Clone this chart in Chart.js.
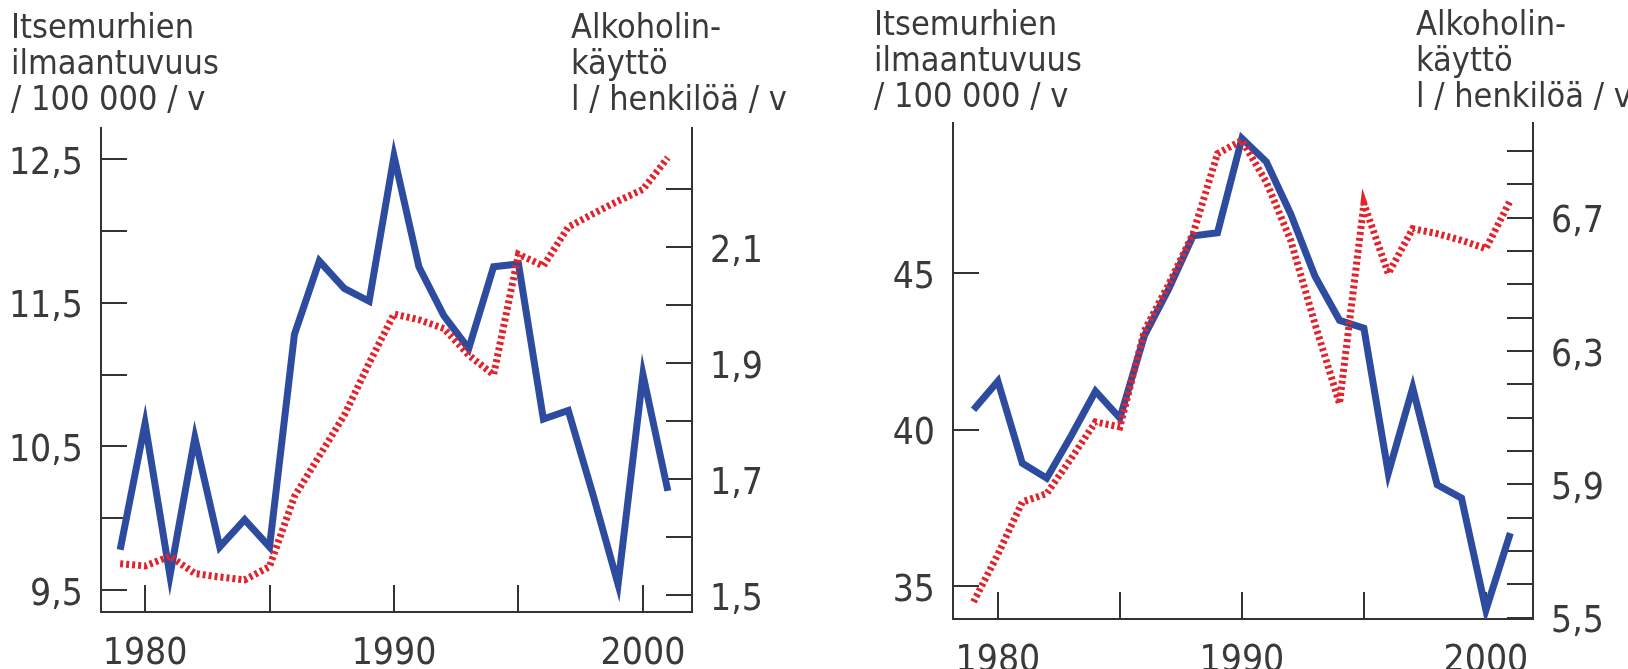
<!DOCTYPE html>
<html>
<head>
<meta charset="utf-8">
<script src="https://cdn.jsdelivr.net/npm/chart.js@4.4.0/dist/chart.umd.min.js"></script>
<style>
  body { margin: 0; background: #fff; }
  .panel { position: absolute; top: 0; width: 814px; height: 669px; }
  .title {
    position: absolute;
    font-family: "Liberation Sans Narrow", "DejaVu Sans Condensed", "Open Sans", sans-serif;
    font-size: 34px;
    line-height: 36px;
    color: #3a3a3a;
    white-space: nowrap;
  }
</style>
</head>
<body>
<div class="panel" style="left:0">
  <canvas id="leftChart" width="814" height="669"></canvas>
  <div class="title" style="left:11px; top:8px">Itsemurhien<br>ilmaantuvuus<br>/ 100 000 / v</div>
  <div class="title" style="left:571px; top:8px">Alkoholin-<br>käyttö<br>l / henkilöä / v</div>
</div>
<div class="panel" style="left:814px">
  <canvas id="rightChart" width="814" height="669"></canvas>
  <div class="title" style="left:60px; top:5px">Itsemurhien<br>ilmaantuvuus<br>/ 100 000 / v</div>
  <div class="title" style="left:602px; top:5px">Alkoholin-<br>käyttö<br>l / henkilöä / v</div>
</div>

<script>
// ── Data ──
const YEARS = [1979, 1980, 1981, 1982, 1983, 1984, 1985, 1986, 1987, 1988, 1989, 1990,
               1991, 1992, 1993, 1994, 1995, 1996, 1997, 1998, 1999, 2000, 2001];

// left panel
const LEFT_SUICIDE = [9.78, 10.66, 9.60, 10.56, 9.80, 9.99, 9.80, 11.28, 11.79, 11.60, 11.51, 12.52,
                      11.75, 11.41, 11.18, 11.75, 11.77, 10.69, 10.75, 10.16, 9.54, 11.00, 10.19];
const LEFT_ALCOHOL = [1.554, 1.550, 1.567, 1.537, 1.531, 1.526, 1.549, 1.670, 1.740, 1.810, 1.900, 1.985,
                      1.975, 1.960, 1.914, 1.880, 2.088, 2.068, 2.135, 2.158, 2.180, 2.200, 2.255];

// right panel
const RIGHT_SUICIDE = [40.64, 41.55, 38.93, 38.45, 39.80, 41.23, 40.37, 43.00, 44.50, 46.20, 46.30, 49.32,
                       48.57, 46.90, 44.90, 43.50, 43.25, 38.61, 41.34, 38.24, 37.81, 34.23, 36.69];
const RIGHT_ALCOHOL = [5.547, 5.690, 5.847, 5.872, 5.977, 6.087, 6.072, 6.360, 6.500, 6.652, 6.892, 6.932,
                       6.807, 6.632, 6.380, 6.142, 6.742, 6.532, 6.667, 6.652, 6.632, 6.607, 6.752];

// ticks
const X_TICKS = [1980, 1985, 1990, 1995, 2000];
const X_LABELS = [1980, 1990, 2000];
const LEFT_Y_TICKS = [9.5, 10, 10.5, 11, 11.5, 12, 12.5];
const LEFT_Y_LABELS = [9.5, 10.5, 11.5, 12.5];
const LEFT_Y2_TICKS = [1.5, 1.6, 1.7, 1.8, 1.9, 2.0, 2.1, 2.2];
const LEFT_Y2_LABELS = [1.5, 1.7, 1.9, 2.1];
const RIGHT_Y_TICKS = [35, 40, 45];
const RIGHT_Y_LABELS = [35, 40, 45];
const RIGHT_Y2_TICKS = [5.5, 5.6, 5.7, 5.8, 5.9, 6.0, 6.1, 6.2, 6.3, 6.4, 6.5, 6.6, 6.7, 6.8, 6.9];
const RIGHT_Y2_LABELS = [5.5, 5.9, 6.3, 6.7];

// ── Styles ──
const BLUE = '#2e4c9f';
const RED = '#e1242c';
const AXIS = '#333333';
const TEXT = '#3a3a3a';
const FONT = '"Liberation Sans Narrow", "DejaVu Sans Condensed", "Open Sans", sans-serif';

// short tick marks drawn inwards from each axis line
const innerTicks = {
  id: 'innerTicks',
  beforeDatasetsDraw(chart, args, opts) {
    const { ctx, chartArea: a } = chart;
    ctx.save();
    ctx.strokeStyle = AXIS;
    ctx.lineWidth = 2;
    Object.entries(opts.lengths).forEach(([id, len]) => {
      const s = chart.scales[id];
      s.ticks.forEach(t => {
        const p = Math.round(s.getPixelForValue(t.value));
        ctx.beginPath();
        if (id === 'x') {
          ctx.moveTo(p, a.bottom);
          ctx.lineTo(p, a.bottom - len);
        } else if (s.position === 'left') {
          ctx.moveTo(a.left, p);
          ctx.lineTo(a.left + len, p);
        } else {
          ctx.moveTo(a.right, p);
          ctx.lineTo(a.right - len, p);
        }
        ctx.stroke();
      });
    });
    ctx.restore();
  },
};

const fmt = v => String(v).replace('.', ',');

function axis(position, min, max, tickVals, labelVals, size, padding, labelFmt) {
  const horizontal = position === 'bottom';
  return {
    type: 'linear',
    position,
    min,
    max,
    grid: { display: false, drawTicks: false },
    border: { display: true, color: AXIS, width: 2 },
    afterBuildTicks: s => { s.ticks = tickVals.map(v => ({ value: v })); },
    afterFit: s => {
      if (horizontal) s.height = size;
      else s.width = size;
    },
    ticks: {
      autoSkip: false,
      maxRotation: 0,
      padding,
      labelOffset: horizontal ? 0 : 5,
      color: TEXT,
      font: { family: FONT, size: 37 },
      callback: v => (labelVals.includes(v) ? labelFmt(v) : ''),
    },
  };
}

/**
 * One panel: suicide rate (solid blue, left axis) and alcohol use (dotted red, right axis)
 */
function renderPanel(canvasId, p) {
  const ctx = document.getElementById(canvasId);
  if (!ctx) return;

  new Chart(ctx, {
    type: 'line',
    data: {
      datasets: [
        {
          label: 'Alkoholinkäyttö',
          data: YEARS.map((yr, i) => ({ x: yr, y: p.alcohol[i] })),
          yAxisID: 'y2',
          borderColor: RED,
          borderWidth: 7,
          borderDash: [3, 3],
          borderCapStyle: 'butt',
          pointRadius: 0,
          tension: 0,
        },
        {
          label: 'Itsemurhien ilmaantuvuus',
          data: YEARS.map((yr, i) => ({ x: yr, y: p.suicide[i] })),
          yAxisID: 'y',
          borderColor: BLUE,
          borderWidth: 7,
          borderJoinStyle: 'miter',
          pointRadius: 0,
          tension: 0,
        },
      ],
    },
    options: {
      responsive: false,
      animation: false,
      events: [],
      layout: { padding: { top: p.top, left: 0, right: 0, bottom: 0 } },
      plugins: {
        legend: { display: false },
        tooltip: { enabled: false },
        innerTicks: { lengths: { x: 27, y: 26, y2: 26 } },
      },
      scales: {
        x: axis('bottom', p.xMin, p.xMax, X_TICKS, X_LABELS, p.xHeight, 20, v => String(v)),
        y: axis('left', p.yMin, p.yMax, p.yTicks, p.yLabels, p.yWidth, 18, fmt),
        y2: axis('right', p.y2Min, p.y2Max, p.y2Ticks, p.y2Labels, p.y2Width, 18, fmt),
      },
    },
    plugins: [innerTicks],
  });
}

renderPanel('leftChart', {
  suicide: LEFT_SUICIDE, alcohol: LEFT_ALCOHOL,
  top: 128, xHeight: 57, yWidth: 101, y2Width: 122,
  xMin: 1978.23, xMax: 2001.97,
  yMin: 9.347, yMax: 12.716, yTicks: LEFT_Y_TICKS, yLabels: LEFT_Y_LABELS,
  y2Min: 1.4706, y2Max: 2.306, y2Ticks: LEFT_Y2_TICKS, y2Labels: LEFT_Y2_LABELS,
});

renderPanel('rightChart', {
  suicide: RIGHT_SUICIDE, alcohol: RIGHT_ALCOHOL,
  top: 123, xHeight: 50, yWidth: 139, y2Width: 95,
  xMin: 1978.16, xMax: 2001.93,
  yMin: 33.945, yMax: 49.81, yTicks: RIGHT_Y_TICKS, yLabels: RIGHT_Y_LABELS,
  y2Min: 5.4958, y2Max: 6.984, y2Ticks: RIGHT_Y2_TICKS, y2Labels: RIGHT_Y2_LABELS,
});
</script>
</body>
</html>
